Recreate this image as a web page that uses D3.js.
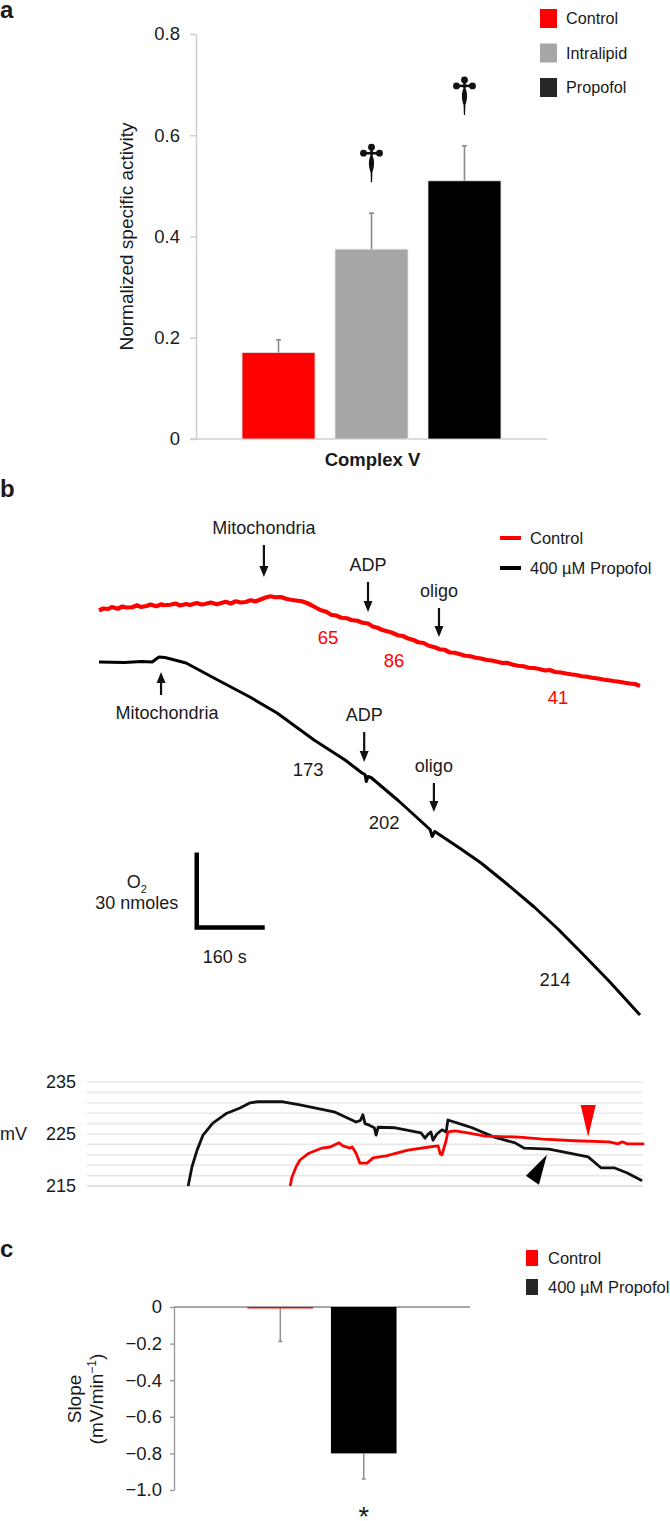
<!DOCTYPE html>
<html>
<head>
<meta charset="utf-8">
<script src="https://cdn.jsdelivr.net/npm/d3@7"></script>
<style>
  html, body { margin: 0; padding: 0; background: #fff; }
  svg text { font-family: 'Liberation Sans', Arial, Helvetica, sans-serif; fill: #1a1a1a; }
</style>
</head>
<body>
<div id="fig"></div>
<script>
// ---- panel a: complex V activity ----
const groupsA = ["Control", "Intralipid", "Propofol"];
const meansA = [0.171, 0.375, 0.510];
const errsA = [0.025, 0.071, 0.069];
const barColorsA = ["#ff0000", "#a6a6a6", "#000000"];
const legendColorsA = ["#ff0000", "#a6a6a6", "#262626"];
const daggerA = [false, true, true];
const ticksA = [0, 0.2, 0.4, 0.6, 0.8];

// ---- panel b: O2 traces (time in s, O2 in nmol, relative) ----
const controlO2 = [
  [0,167.8],[10,168.6],[22,168.4],[30,169.2],[44,168.5],[55,169.4],[63,169.0],[78,169.1],[90,169.9],
  [98,169.2],[112,169.6],[121,170.2],[135,169.5],[147,170.3],[152,169.9],[168,170.1],[180,170.6],
  [191,169.8],[205,170.4],[214,170.0],[230,170.8],[241,170.2],[249,170.4],[263,171.0],[277,170.3],
  [286,170.7],[298,171.3],[310,170.6],[322,171.5],[333,171.0],[345,171.2],[357,171.9],[368,171.4],
  [380,172.2],[392,173.0],[403,173.5],[414,173.1],[428,173.2],[440,172.5],[451,172.1],[463,171.8],
  [477,171.5],[489,170.8],[500,169.9],[512,168.8],[522,167.9],[535,167.3],[546,166.1],[558,165.8],
  [570,164.9],[583,164.7],[594,164.0],[608,163.7],[620,162.9],[633,162.6],[644,161.4],[655,160.9],
  [667,160.0],[680,159.4],[690,158.9],[703,157.9],[715,157.6],[726,156.7],[740,156.0],[751,155.1],
  [764,154.8],[776,153.7],[790,153.1],[801,152.3],[813,152.1],[826,151.0],[837,150.9],[850,150.3],
  [861,149.7],[874,149.5],[887,148.9],[899,148.6],[913,148.0],[924,147.8],[937,147.3],[949,146.8],
  [960,146.9],[974,146.1],[986,145.7],[999,145.5],[1011,144.9],[1023,144.8],[1036,144.4],[1049,143.8],
  [1061,144.0],[1073,143.2],[1087,143.0],[1099,142.6],[1110,142.3],[1123,142.0],[1136,141.5],
  [1149,141.3],[1160,140.9],[1174,140.6],[1186,140.2],[1199,139.9],[1210,139.6],[1224,139.3],
  [1237,138.9],[1249,138.6],[1261,138.4],[1273,137.6]
];
const propofolO2 = [
  [0,147.2],[60,147.0],[100,147.4],[125,147.2],[141,149.2],[155,149.0],[169,148.4],[205,146.8],
  [266,141.2],[355,133.2],[419,126.8],[506,116.0],[579,108.0],[619,102.8],[626,102.2],[629,99.4],
  [633,101.4],[640,101.0],[704,91.8],[779,80.2],[784,77.4],[790,79.4],[850,72.6],[899,66.8],
  [960,58.4],[1024,49.2],[1080,40.4],[1129,32.0],[1200,19.6],[1273,6.0]
];
// additions: time, arrow tip and tail (nmol)
const controlEvents = [
  { label: "Mitochondria", t: 388, tip: 181.2, tail: 194.0 },
  { label: "ADP", t: 633, tip: 167.2, tail: 179.2 },
  { label: "oligo", t: 800, tip: 157.2, tail: 168.8 }
];
const propofolEvents = [
  { label: "Mitochondria", t: 146, tip: 143.2, tail: 134.0 },
  { label: "ADP", t: 624, tip: 107.2, tail: 119.2 },
  { label: "oligo", t: 788, tip: 87.2, tail: 98.8 }
];
// respiration rates written along the traces
const controlRates = [
  { text: "65", t: 539, v: 156.8 },
  { text: "86", t: 694, v: 147.6 },
  { text: "41", t: 1080, v: 132.8 }
];
const propofolRates = [
  { text: "173", t: 492, v: 104.0 },
  { text: "202", t: 671, v: 82.8 },
  { text: "214", t: 1073, v: 20.0 }
];
const scaleBar = { t: 230, v: 41, dt: 160, dv: 30 };
const legendB = ["Control", "400 \u00b5M Propofol"];

// ---- membrane potential (time s, mV) ----
const propofolMV = [
  [238,215.0],[247,218.7],[259,221.9],[273,224.8],[296,227.1],[329,229.0],[360,230.0],[384,231.0],
  [402,231.2],[461,231.2],[501,230.6],[584,229.2],[633,227.3],[643,227.6],[649,228.7],[654,227.0],
  [664,226.7],[676,226.2],[680,224.8],[685,226.3],[725,226.2],[786,225.2],[795,224.2],[803,225.0],
  [809,225.4],[814,223.8],[823,225.0],[835,225.8],[845,225.4],[849,227.7],[887,226.7],[906,226.2],
  [958,224.4],[1007,223.3],[1028,222.3],[1087,222.1],[1179,220.6],[1209,218.5],[1240,218.5],
  [1271,217.5],[1306,216.0]
];
const controlMV = [
  [478,215.0],[482,216.7],[492,218.7],[501,220.0],[522,221.3],[553,222.3],[572,222.5],[593,223.3],
  [602,222.7],[619,222.3],[624,222.5],[633,221.3],[642,219.4],[659,219.4],[673,220.4],[704,220.8],
  [755,221.9],[805,222.5],[826,222.7],[831,221.2],[835,221.0],[845,223.8],[849,225.4],[866,225.6],
  [896,225.2],[937,224.6],[1017,224.4],[1073,224.0],[1148,223.7],[1228,223.5],[1249,223.1],
  [1259,223.5],[1271,223.1],[1311,223.1]
];
const mvTicks = [215, 225, 235];
const mvMarkers = [
  { color: "#ff0000", t: 1179, v: 224.4, dir: "down" },
  { color: "#000000", t: 1082, v: 221.0, dir: "upright" }
];

// ---- panel c: slope ----
const groupsC = ["Control", "400 \u00b5M Propofol"];
const meansC = [-0.008, -0.80];
const errsC = [0.18, 0.14];
const colorsC = ["#ff0000", "#000000"];
const legendColorsC = ["#ff0000", "#262626"];
const ticksC = [0, -0.2, -0.4, -0.6, -0.8, -1.0];

// ================= drawing =================
const W = 670, H = 1521;
const svg = d3.select("#fig").append("svg").attr("width", W).attr("height", H);

function panelLabel(txt, x, y) {
  svg.append("text").attr("x", x).attr("y", y).text(txt)
    .style("font-size", "24px").style("font-weight", "bold");
}

function arrow(g, x, y1, y2) {
  // y1 tail, y2 tip
  const dir = Math.sign(y2 - y1);
  g.append("line").attr("x1", x).attr("x2", x).attr("y1", y1).attr("y2", y2 - dir * 8)
    .attr("stroke", "#111").attr("stroke-width", 2.2);
  g.append("path")
    .attr("d", `M${x},${y2} L${x - 4.5},${y2 - dir * 11} L${x + 4.5},${y2 - dir * 11} Z`)
    .attr("fill", "#111");
}

function dagger(g, cx, by) {
  const s = g.append("g").attr("transform", `translate(${cx},${by})`).attr("fill", "#111");
  s.append("path").attr("d", "M0,-29 C3.4,-23 3.2,-16 0.9,-10 L0.6,0 L-0.6,0 L-0.9,-10 C-3.2,-16 -3.4,-23 0,-29 Z");
  s.append("rect").attr("x", -8).attr("y", -30.3).attr("width", 16).attr("height", 2.6);
  s.append("circle").attr("cx", 0).attr("cy", -35).attr("r", 3.4);
  s.append("circle").attr("cx", -8).attr("cy", -29).attr("r", 3.4);
  s.append("circle").attr("cx", 8).attr("cy", -29).attr("r", 3.4);
  s.append("rect").attr("x", -1.3).attr("y", -35).attr("width", 2.6).attr("height", 8);
}

// ---------- panel a ----------
panelLabel("a", 0, 18);
const gA = svg.append("g");
const xA = d3.scaleBand().domain(groupsA).range([196, 547]).paddingInner(0.215).paddingOuter(0.495);
const yA = d3.scaleLinear().domain([0, 0.8]).range([439, 34]);

const axA = gA.append("g").attr("transform", "translate(196,0)")
  .call(d3.axisLeft(yA).tickValues(ticksA).tickSize(6).tickSizeOuter(0).tickPadding(10)
    .tickFormat(d => d === 0 ? "0" : d3.format(".1f")(d)));
axA.select(".domain").attr("stroke", "#cfcfcf").attr("stroke-width", 1.5);
axA.selectAll(".tick line").attr("stroke", "#cfcfcf").attr("stroke-width", 1.5);
axA.selectAll(".tick text").style("font-size", "18.5px").attr("fill", "#1a1a1a");

gA.append("line").attr("x1", 190).attr("x2", 547).attr("y1", yA(0)).attr("y2", yA(0))
  .attr("stroke", "#cfcfcf").attr("stroke-width", 1.5);

const dataA = groupsA.map((g, i) => ({ g, m: meansA[i], e: errsA[i], c: barColorsA[i], dag: daggerA[i] }));
gA.selectAll("rect.bar").data(dataA).join("rect").attr("class", "bar")
  .attr("x", d => xA(d.g)).attr("width", xA.bandwidth())
  .attr("y", d => yA(d.m)).attr("height", d => yA(0) - yA(d.m))
  .attr("fill", d => d.c).attr("stroke", "#e6e6e6").attr("stroke-width", 0.8);
gA.selectAll("line.err").data(dataA).join("line").attr("class", "err")
  .attr("x1", d => xA(d.g) + xA.bandwidth() / 2).attr("x2", d => xA(d.g) + xA.bandwidth() / 2)
  .attr("y1", d => yA(d.m)).attr("y2", d => yA(d.m + d.e))
  .attr("stroke", "#8a8a8a").attr("stroke-width", 1.6);
gA.selectAll("line.cap").data(dataA).join("line").attr("class", "cap")
  .attr("x1", d => xA(d.g) + xA.bandwidth() / 2 - 2.5).attr("x2", d => xA(d.g) + xA.bandwidth() / 2 + 2.5)
  .attr("y1", d => yA(d.m + d.e)).attr("y2", d => yA(d.m + d.e))
  .attr("stroke", "#8a8a8a").attr("stroke-width", 1.6);
dataA.filter(d => d.dag).forEach(d => dagger(gA, xA(d.g) + xA.bandwidth() / 2, yA(d.m + d.e) - 31));

gA.append("text").attr("transform", `translate(133,${(yA(0) + yA(0.8)) / 2}) rotate(-90)`)
  .attr("text-anchor", "middle").style("font-size", "19px").text("Normalized specific activity");
gA.append("text").attr("x", (196 + 547) / 2 + 1).attr("y", 466).attr("text-anchor", "middle")
  .style("font-size", "18.5px").style("font-weight", "bold").text("Complex V");

const legA = gA.append("g");
groupsA.forEach((g, i) => {
  const cy = 18.5 + i * 34.5;
  legA.append("rect").attr("x", 540).attr("y", cy - 9.5).attr("width", 17).attr("height", 19)
    .attr("fill", legendColorsA[i]);
  legA.append("text").attr("x", 566).attr("y", cy).attr("dy", "0.35em")
    .style("font-size", "16.2px").text(g);
});

// ---------- panel b: O2 traces ----------
panelLabel("b", 0, 497);
const gB = svg.append("g");
const xB = d3.scaleLinear().domain([0, 1273]).range([99, 640]);
const yB = d3.scaleLinear().domain([0, 200]).range([1030, 530]);
const lineB = d3.line().x(d => xB(d[0])).y(d => yB(d[1]));

gB.append("path").datum(controlO2).attr("d", lineB).attr("fill", "none")
  .attr("stroke", "#ff0000").attr("stroke-width", 4.2).attr("stroke-linejoin", "round");
gB.append("path").datum(propofolO2).attr("d", lineB).attr("fill", "none")
  .attr("stroke", "#000").attr("stroke-width", 3).attr("stroke-linejoin", "round");

controlEvents.concat(propofolEvents).forEach(ev => {
  const x = xB(ev.t), yTip = yB(ev.tip), yTail = yB(ev.tail);
  arrow(gB, x, yTail, yTip);
  const up = yTip < yTail;
  gB.append("text").attr("x", x + (up ? 6 : 0)).attr("y", up ? yTail + 24 : yTail - 11)
    .attr("text-anchor", "middle").style("font-size", "18px").text(ev.label);
});

gB.selectAll("text.rc").data(controlRates).join("text").attr("class", "rc")
  .attr("x", d => xB(d.t)).attr("y", d => yB(d.v)).attr("dy", "0.35em").attr("text-anchor", "middle")
  .style("font-size", "18.5px").style("fill", "#ff0000").text(d => d.text);
gB.selectAll("text.rp").data(propofolRates).join("text").attr("class", "rp")
  .attr("x", d => xB(d.t)).attr("y", d => yB(d.v)).attr("dy", "0.35em").attr("text-anchor", "middle")
  .style("font-size", "18.5px").text(d => d.text);

// scale bar built from the same scales
const sbx = xB(scaleBar.t), sby = yB(scaleBar.v);
gB.append("path")
  .attr("d", `M${sbx},${yB(scaleBar.v + scaleBar.dv)} L${sbx},${sby} L${xB(scaleBar.t + scaleBar.dt)},${sby}`)
  .attr("fill", "none").attr("stroke", "#000").attr("stroke-width", 4.5).attr("stroke-linejoin", "miter");
const o2 = gB.append("text").attr("x", sbx - 60).attr("y", sby - 40).attr("text-anchor", "middle")
  .style("font-size", "18px");
o2.append("tspan").text("O");
o2.append("tspan").attr("dy", 5).style("font-size", "11px").text("2");
gB.append("text").attr("x", sbx - 60).attr("y", sby - 19).attr("text-anchor", "middle")
  .style("font-size", "18px").text("30 nmoles");
gB.append("text").attr("x", (sbx + xB(scaleBar.t + scaleBar.dt)) / 2 - 6).attr("y", sby + 35)
  .attr("text-anchor", "middle").style("font-size", "18px").text("160 s");

const legB = gB.append("g");
legendB.forEach((g, i) => {
  const cy = 538 + i * 30;
  legB.append("line").attr("x1", 500).attr("x2", 521).attr("y1", cy).attr("y2", cy)
    .attr("stroke", i === 0 ? "#ff0000" : "#000").attr("stroke-width", 4);
  legB.append("text").attr("x", 530).attr("y", cy).attr("dy", "0.35em")
    .style("font-size", "16.5px").text(g);
});

// ---------- membrane potential ----------
const gM = svg.append("g");
const xM = d3.scaleLinear().domain([0, 1308]).range([87, 643]);
const yM = d3.scaleLinear().domain([215, 235]).range([1186, 1082]);
gM.selectAll("line.grid").data(d3.range(215, 236, 2)).join("line").attr("class", "grid")
  .attr("x1", 87).attr("x2", 643).attr("y1", d => yM(d)).attr("y2", d => yM(d))
  .attr("stroke", d => d === 215 ? "#d4d4d4" : "#e8e8e8").attr("stroke-width", 1.6);
gM.selectAll("text.mt").data(mvTicks).join("text").attr("class", "mt")
  .attr("x", 76).attr("y", d => yM(d)).attr("dy", "0.35em").attr("text-anchor", "end")
  .style("font-size", "18px").text(d => d);
gM.append("text").attr("x", 0).attr("y", yM(225)).attr("dy", "0.35em").style("font-size", "18px").text("mV");

const lineM = d3.line().x(d => xM(d[0])).y(d => yM(d[1]));
gM.append("path").datum(propofolMV).attr("d", lineM).attr("fill", "none")
  .attr("stroke", "#111").attr("stroke-width", 2.8).attr("stroke-linejoin", "round");
gM.append("path").datum(controlMV).attr("d", lineM).attr("fill", "none")
  .attr("stroke", "#ff0000").attr("stroke-width", 2.8).attr("stroke-linejoin", "round");

mvMarkers.forEach(m => {
  const x = xM(m.t), y = yM(m.v);
  const d = m.dir === "down"
    ? `M${x},${y} L${x - 7.5},${y - 32} L${x + 7.5},${y - 32} Z`
    : `M${x},${y} L${x - 21},${y + 21} L${x - 8},${y + 30} Z`;
  gM.append("path").attr("d", d).attr("fill", m.color);
});

// ---------- panel c ----------
panelLabel("c", 0, 1257);
const gC = svg.append("g");
const xC = d3.scaleBand().domain(groupsC).range([174, 470]).paddingInner(0.214).paddingOuter(0.88);
const yC = d3.scaleLinear().domain([-1, 0]).range([1490, 1307]);

const axC = gC.append("g").attr("transform", "translate(174,0)")
  .call(d3.axisLeft(yC).tickValues(ticksC).tickSize(4).tickSizeOuter(0).tickPadding(8)
    .tickFormat(d => d === 0 ? "0" : d3.format(".1f")(d)));
axC.select(".domain").attr("stroke", "#9a9a9a").attr("stroke-width", 1.4);
axC.selectAll(".tick line").attr("stroke", "#9a9a9a").attr("stroke-width", 1.4);
axC.selectAll(".tick text").style("font-size", "18.5px").attr("fill", "#1a1a1a");

gC.append("line").attr("x1", 174).attr("x2", 470).attr("y1", yC(0)).attr("y2", yC(0))
  .attr("stroke", "#8a8a8a").attr("stroke-width", 1.5);

const dataC = groupsC.map((g, i) => ({ g, m: meansC[i], e: errsC[i], c: colorsC[i] }));
gC.selectAll("line.err").data(dataC).join("line").attr("class", "err")
  .attr("x1", d => xC(d.g) + xC.bandwidth() / 2).attr("x2", d => xC(d.g) + xC.bandwidth() / 2)
  .attr("y1", d => yC(d.m)).attr("y2", d => yC(d.m - d.e))
  .attr("stroke", "#8a8a8a").attr("stroke-width", 1.4);
gC.selectAll("line.cap").data(dataC).join("line").attr("class", "cap")
  .attr("x1", d => xC(d.g) + xC.bandwidth() / 2 - 2).attr("x2", d => xC(d.g) + xC.bandwidth() / 2 + 2)
  .attr("y1", d => yC(d.m - d.e)).attr("y2", d => yC(d.m - d.e))
  .attr("stroke", "#8a8a8a").attr("stroke-width", 1.4);
gC.selectAll("rect.bar").data(dataC).join("rect").attr("class", "bar")
  .attr("x", d => xC(d.g)).attr("width", xC.bandwidth())
  .attr("y", yC(0)).attr("height", d => yC(d.m) - yC(0))
  .attr("fill", d => d.c);
gC.append("text").attr("x", xC(groupsC[1]) + xC.bandwidth() / 2).attr("y", 1526)
  .attr("text-anchor", "middle").style("font-size", "27px").text("*");

gC.append("text").attr("transform", `translate(81,1399) rotate(-90)`)
  .attr("text-anchor", "middle").style("font-size", "19px").text("Slope");
const ylC2 = gC.append("text").attr("transform", `translate(103,1399) rotate(-90)`)
  .attr("text-anchor", "middle").style("font-size", "19px");
ylC2.append("tspan").text("(mV/min");
ylC2.append("tspan").attr("dy", -7).style("font-size", "12px").text("\u22121");
ylC2.append("tspan").attr("dy", 7).text(")");

const legC = gC.append("g");
groupsC.forEach((g, i) => {
  const cy = 1258 + i * 29;
  legC.append("rect").attr("x", 526).attr("y", cy - 8).attr("width", 12).attr("height", 16)
    .attr("fill", legendColorsC[i]);
  legC.append("text").attr("x", 548).attr("y", cy).attr("dy", "0.35em")
    .style("font-size", "16.5px").text(g);
});
</script>
</body>
</html>
